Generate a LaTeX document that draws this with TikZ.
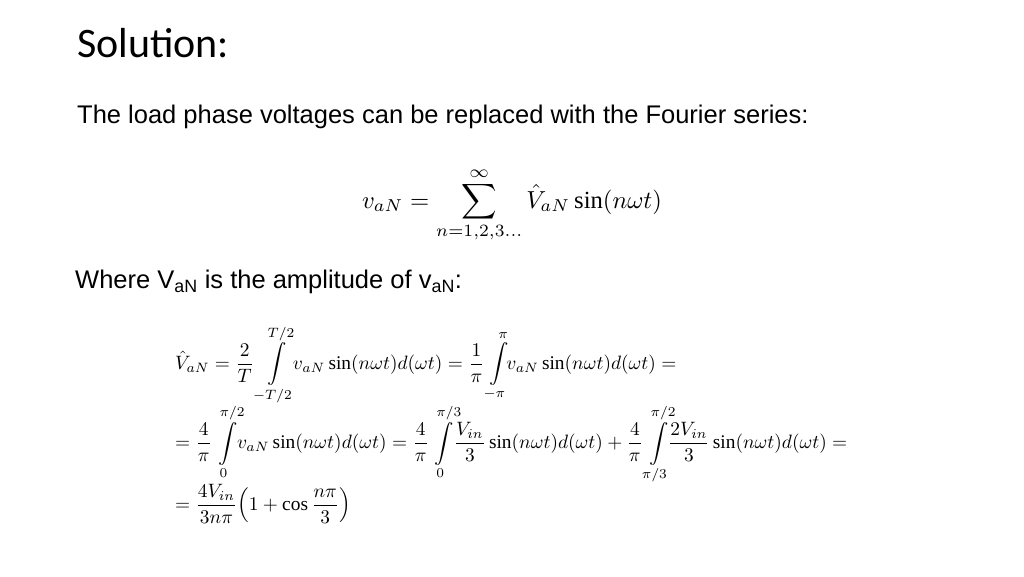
\documentclass[tikz,border=0pt]{standalone}
\usepackage{fontspec}
\usepackage{amsmath,graphicx}
\setmainfont{Liberation Serif}
\newfontfamily\bodyfont{Liberation Sans}
\newfontfamily\titlefont{Carlito}
\newcommand{\myint}[2]{\int\limits_{#1}^{#2}\!\!}
\begin{document}
\begin{tikzpicture}[x=1pt,y=1pt,
  txt/.style={anchor=west,inner sep=0pt,font=\bodyfont\fontsize{25.5}{30}\selectfont}]
\useasboundingbox (0,0) rectangle (1024,-576);
\fill[white] (0,0) rectangle (1024,-576);
\node[anchor=base west,inner sep=0pt,font=\titlefont\fontsize{42}{50}\selectfont] (title) at (77,-57) {Solution:};
\node[txt] (intro) at (77,-117) {The load phase voltages can be replaced with the Fourier series:};
\node[inner sep=0pt] (sum) at (512,-205) {\resizebox{300pt}{!}{$\displaystyle v_{aN}=\sum_{n=1,2,3\ldots}^{\infty}\hat V_{aN}\sin(n\omega t)$}};
\node[txt] (where) at (75,-282) {Where V\textsubscript{aN} is the amplitude of v\textsubscript{aN}:};
\node[anchor=north west,inner sep=0pt] (eqs) at (175,-325) {\resizebox{672pt}{!}{$\begin{array}{@{}l@{}}
\displaystyle \hat V_{aN}=\frac{2}{T}\myint{-T/2}{T/2} v_{aN}\sin(n\omega t)d(\omega t)=\frac{1}{\pi}\myint{-\pi}{\pi} v_{aN}\sin(n\omega t)d(\omega t)=\\[2pt]
\displaystyle =\frac{4}{\pi}\myint{0}{\pi/2} v_{aN}\sin(n\omega t)d(\omega t)=\frac{4}{\pi}\myint{0}{\pi/3}\frac{V_{in}}{3}\sin(n\omega t)d(\omega t)+\frac{4}{\pi}\myint{\pi/3}{\pi/2}\frac{2V_{in}}{3}\sin(n\omega t)d(\omega t)=\\[2pt]
\displaystyle =\frac{4V_{in}}{3n\pi}\Bigl(1+\cos\frac{n\pi}{3}\Bigr)
\end{array}$}};
\end{tikzpicture}
\end{document}
